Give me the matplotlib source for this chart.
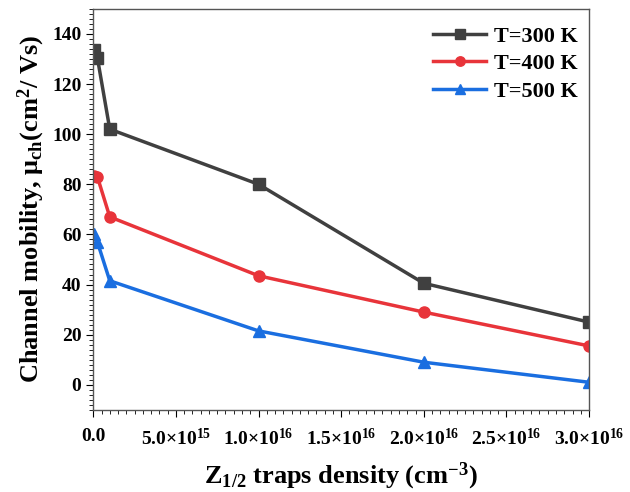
import numpy as np
import matplotlib.pyplot as plt
from matplotlib.ticker import MultipleLocator, FuncFormatter

plt.rcParams['font.family'] = ['Liberation Serif', 'DejaVu Serif']
plt.rcParams['font.weight'] = 'bold'
plt.rcParams['mathtext.fontset'] = 'custom'
plt.rcParams['mathtext.rm'] = 'Liberation Serif:bold'
plt.rcParams['mathtext.it'] = 'Liberation Serif:bold'
plt.rcParams['mathtext.bf'] = 'Liberation Serif:bold'

# trap density (cm^-3) and channel mobility (cm^2/Vs)
density = [5e13, 2.5e14, 1e15, 1e16, 2e16, 3e16]
mu_300 = [133.5, 130.5, 102, 80, 40.5, 25]
mu_400 = [83.5, 83, 67, 43.5, 29, 15.5]
mu_500 = [60, 57, 41.5, 21.5, 9, 1]

fig = plt.figure(figsize=(6.3, 4.92), dpi=100)
ax = fig.add_axes([0.148, 0.167, 0.787, 0.815])

ax.plot(density, mu_300, color='#404040', marker='s', ms=8, lw=2.5, label='T=300 K')
ax.plot(density, mu_400, color='#e8343a', marker='o', ms=8, lw=2.5, label='T=400 K')
ax.plot(density, mu_500, color='#1a6ee0', marker='^', ms=9, lw=2.5, label='T=500 K')

ax.set_xlim(0, 3e16)
ax.set_ylim(-10, 150)
ax.yaxis.set_major_locator(MultipleLocator(20))
ax.yaxis.set_minor_locator(MultipleLocator(2))
ax.xaxis.set_major_locator(MultipleLocator(5e15))
ax.xaxis.set_minor_locator(MultipleLocator(5e14))

def fmt(v, pos):
    if v <= 0:
        return '0.0'
    e = int(np.floor(np.log10(v)))
    return r'%.1f$\times$10$^{%d}$' % (v / 10**e, e)

ax.xaxis.set_major_formatter(FuncFormatter(fmt))
ax.tick_params(which='both', direction='out', top=False, right=False)
ax.tick_params(which='major', length=5, labelsize=14)
ax.tick_params(which='minor', length=3)
ax.tick_params(axis='x', which='major', pad=8)
for s in ax.spines.values():
    s.set_linewidth(1.0)
    s.set_color('#555555')

ax.set_xlabel(r'Z$_{1/2}$ traps density (cm$^{-3}$)', fontsize=19, fontweight='bold', labelpad=8)
ax.set_ylabel(r'Channel mobility, $\mu_{ch}$(cm$^2$/ Vs)', fontsize=19, fontweight='bold', labelpad=4)

leg = ax.legend(loc='upper right', frameon=False, handlelength=2.4, markerscale=0.85,
                prop={'weight': 'bold', 'size': 16}, borderaxespad=0.1, labelspacing=0.32,
                handletextpad=0.35, bbox_to_anchor=(1.0, 0.985))

fig.savefig('out.png', dpi=100)
